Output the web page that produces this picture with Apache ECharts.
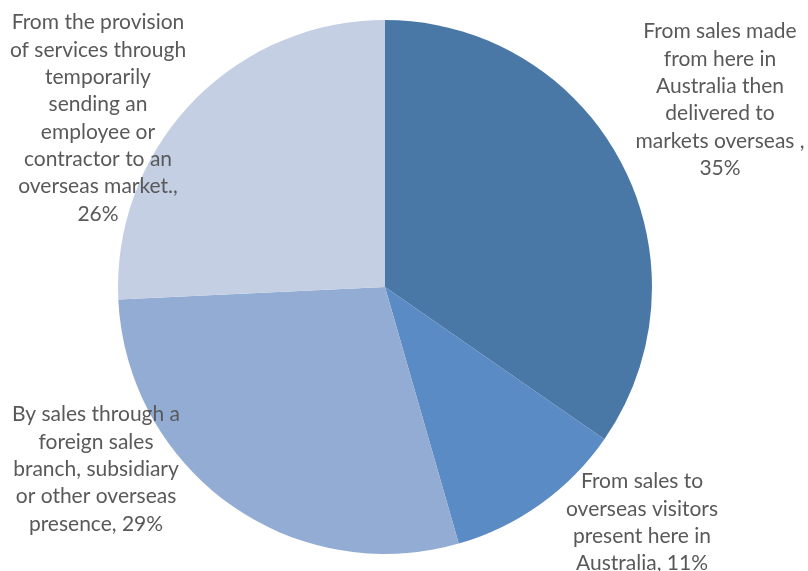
<!DOCTYPE html>
<html>
<head>
<meta charset="utf-8">
<script src="https://cdn.jsdelivr.net/npm/echarts@6/dist/echarts.min.js"></script>
<style>
  html, body { margin: 0; padding: 0; background: #ffffff; }
  #chart { width: 808px; height: 571px; }
</style>
</head>
<body>
<div id="chart"></div>
<script>
// Channels through which exports are made (share of respondents, %)
const categories = [
  'From sales made\nfrom here in\nAustralia then\ndelivered to\nmarkets overseas ',
  'From sales to\noverseas visitors\npresent here in\nAustralia',
  'By sales through a\nforeign sales\nbranch, subsidiary\nor other overseas\npresence',
  'From the provision\nof services through\ntemporarily\nsending an\nemployee or\ncontractor to an\noverseas market.'
];
const values = [35, 11, 29, 26];
// text placed between each category name and its value
const separators = [',\n', ', ', ', ', ',\n'];
const colors = ['#4a78a6', '#5a8bc4', '#92acd3', '#c5cfe3'];

// label anchor: centre x and top y of each text block
const labelSpots = [
  { x: 720, y: 18 },
  { x: 642, y: 468 },
  { x: 96, y: 401 },
  { x: 98, y: 9 }
];

const chart = echarts.init(document.getElementById('chart'), null, { renderer: 'canvas' });

chart.setOption({
  backgroundColor: '#ffffff',
  animation: false,
  series: [{
    type: 'pie',
    center: [385, 287],
    radius: 267,
    startAngle: 90,
    clockwise: true,
    avoidLabelOverlap: false,
    itemStyle: { borderWidth: 0 },
    label: {
      show: true,
      position: 'outside',
      color: '#595959',
      fontFamily: 'Lato',
      fontSize: 21,
      lineHeight: 27.3,
      align: 'center',
      formatter: p => p.name + separators[p.dataIndex] + p.value + '%'
    },
    labelLine: { show: false },
    labelLayout: p => ({
      x: labelSpots[p.dataIndex].x,
      y: labelSpots[p.dataIndex].y,
      align: 'center',
      verticalAlign: 'top'
    }),
    data: categories.map((name, i) => ({
      name,
      value: values[i],
      itemStyle: { color: colors[i] }
    }))
  }]
});
</script>
</body>
</html>
